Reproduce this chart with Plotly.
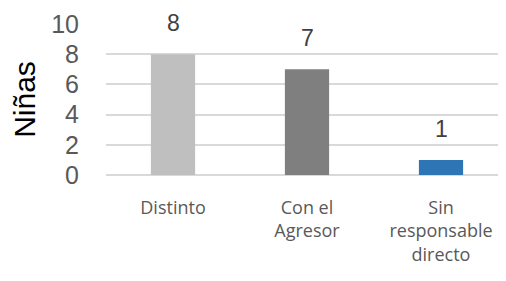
import plotly.graph_objects as go

categories = ["Distinto", "Con el<br>Agresor", "Sin<br>responsable<br>directo"]
values = [8, 7, 1]
colors = ["#BFBFBF", "#7F7F7F", "#2E75B6"]
y_ticks = [0, 2, 4, 6, 8, 10]

fig = go.Figure()
fig.add_trace(go.Bar(x=categories, y=values, marker_color=colors, marker_line_width=0))

for c, v in zip(categories, values):
    fig.add_annotation(x=c, y=v, text=str(v), showarrow=False, yshift=31,
                       font=dict(family="Liberation Sans, Arial", size=23, color="#404040"))

fig.update_layout(
    width=506, height=281,
    margin=dict(l=98, r=6, t=16, b=114),
    paper_bgcolor="white", plot_bgcolor="white",
    bargap=0.67,
    showlegend=False,
    font=dict(family="Liberation Sans, Arial", color="#595959"),
)
fig.update_yaxes(
    range=[0, 10], tickvals=y_ticks,
    automargin=False,
    showgrid=True, gridcolor="#D9D9D9", gridwidth=2,
    zeroline=True, zerolinecolor="#D9D9D9", zerolinewidth=2,
    tickfont=dict(size=25, color="#595959"),
    ticklabelstandoff=26,
    title=dict(text="Niñas", font=dict(size=30, color="#000000"), standoff=10),
)
fig.update_xaxes(
    automargin=False,
    tickfont=dict(family="Open Sans", size=18, color="#595959"),
    ticklabelstandoff=20,
    showline=False,
)
fig.write_html("out.html")
